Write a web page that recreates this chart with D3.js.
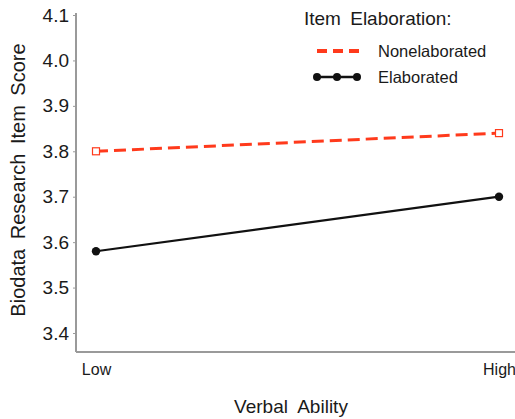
<!DOCTYPE html>
<html><head><meta charset="utf-8">
<script src="https://cdn.jsdelivr.net/npm/d3@7"></script>
<style>body{margin:0;background:#fff}svg{display:block;font-family:"Liberation Sans",Arial,sans-serif}</style>
</head><body>
<svg id="c" width="515" height="419"></svg>
<script>
const categories = ["Low","High"];
const nonelaborated = [3.80, 3.84];
const elaborated = [3.58, 3.70];
const yTicks = [3.4,3.5,3.6,3.7,3.8,3.9,4.0,4.1];
const seriesNames = ["Nonelaborated","Elaborated"];

const svg = d3.select("#c");
const y = d3.scaleLinear().domain([3.4,4.1]).range([333,15]);
const yBottom = 352;
const x = d3.scalePoint().domain(categories).range([96,499]);

// axes lines
svg.append("line").attr("x1",76).attr("x2",76).attr("y1",13).attr("y2",yBottom).attr("stroke","#9a9a9a").attr("stroke-width",2);
svg.append("line").attr("x1",76).attr("x2",515).attr("y1",yBottom).attr("y2",yBottom).attr("stroke","#9a9a9a").attr("stroke-width",2);

const ya = svg.append("g").attr("transform","translate(76,0)")
  .call(d3.axisLeft(y).tickValues(yTicks).tickFormat(d3.format(".1f")).tickSize(3).tickPadding(4));
ya.select(".domain").remove();
ya.selectAll("line").attr("stroke","#9a9a9a");
ya.selectAll("text").attr("font-size",19).attr("fill","#1a1a1a").attr("font-family","Liberation Sans, Arial, sans-serif");

const xa = svg.append("g").attr("transform",`translate(0,${yBottom})`)
  .call(d3.axisBottom(x).tickSize(0).tickPadding(12));
xa.select(".domain").remove();
xa.selectAll("text").attr("font-size",16).attr("fill","#1a1a1a").attr("font-family","Liberation Sans, Arial, sans-serif");

svg.append("text").attr("x",291).attr("y",413).attr("text-anchor","middle").attr("font-size",19).attr("word-spacing",5).attr("fill","#1a1a1a").text("Verbal Ability");
svg.append("text").attr("transform","translate(25,180) rotate(-90)").attr("text-anchor","middle").attr("font-size",20).attr("word-spacing",4).attr("fill","#1a1a1a").text("Biodata Research Item Score");

const red = "#ff3a1c";
const line = d3.line().x((d,i)=>x(categories[i])).y(d=>y(d));
svg.append("path").datum(nonelaborated).attr("d",line).attr("fill","none").attr("stroke",red).attr("stroke-width",3).attr("stroke-dasharray","12,6");
svg.selectAll(".sq").data(nonelaborated).enter().append("rect")
  .attr("x",(d,i)=>x(categories[i])-3.5).attr("y",d=>y(d)-3.5).attr("width",7).attr("height",7)
  .attr("fill","#fff").attr("stroke",red).attr("stroke-width",1.2);

svg.append("path").datum(elaborated).attr("d",line).attr("fill","none").attr("stroke","#111").attr("stroke-width",2.2);
svg.selectAll(".dot").data(elaborated).enter().append("circle")
  .attr("cx",(d,i)=>x(categories[i])).attr("cy",d=>y(d)).attr("r",4.2).attr("fill","#111");

// legend
svg.append("text").attr("x",304).attr("y",25).attr("font-size",19).attr("word-spacing",4).attr("fill","#1a1a1a").text("Item Elaboration:");
svg.append("line").attr("x1",317).attr("x2",361).attr("y1",51).attr("y2",51).attr("stroke",red).attr("stroke-width",4).attr("stroke-dasharray","10,6");
svg.append("text").attr("x",378).attr("y",57).attr("font-size",16.5).attr("fill","#1a1a1a").text(seriesNames[0]);
svg.append("line").attr("x1",317).attr("x2",357).attr("y1",77).attr("y2",77).attr("stroke","#111").attr("stroke-width",2.5);
svg.selectAll(".ld").data([317,337,357]).enter().append("circle").attr("cx",d=>d).attr("cy",77).attr("r",4).attr("fill","#111");
svg.append("text").attr("x",378).attr("y",83).attr("font-size",16.5).attr("fill","#1a1a1a").text(seriesNames[1]);
</script>
</body></html>
